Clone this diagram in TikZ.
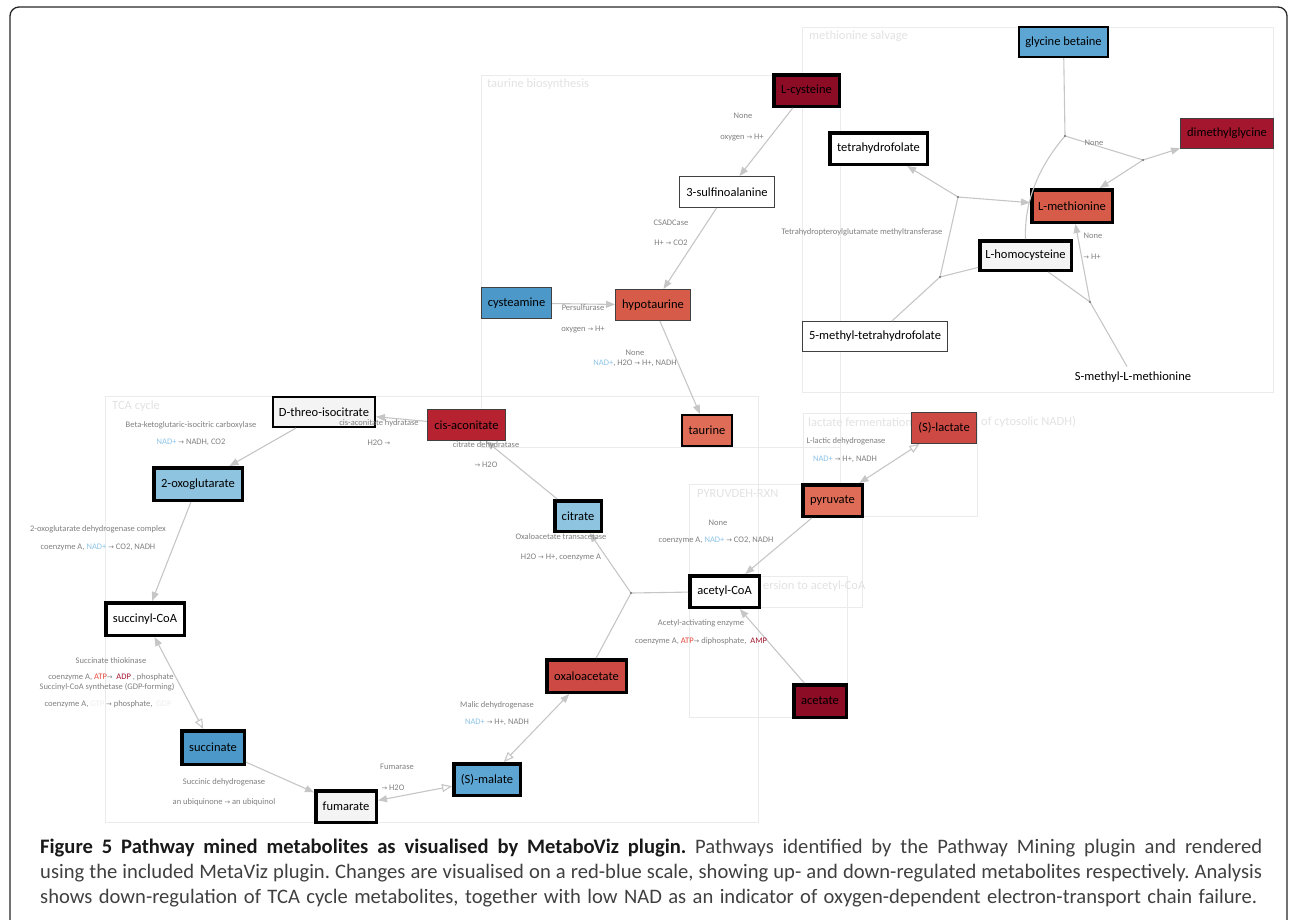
\documentclass[tikz,border=0pt]{standalone}
\usepackage{fontspec}
\setmainfont{Carlito}
\newfontfamily\arrfont{DejaVu Sans}[Scale=0.8]
\usetikzlibrary{arrows.meta}

\definecolor{upA}{HTML}{8B0C24}
\definecolor{upB}{HTML}{A3162D}
\definecolor{upC}{HTML}{B72231}
\definecolor{upD}{HTML}{CD4944}
\definecolor{upE}{HTML}{D65B49}
\definecolor{upF}{HTML}{DF6C56}
\definecolor{downA}{HTML}{4B98C9}
\definecolor{downB}{HTML}{5DA6D4}
\definecolor{downC}{HTML}{8EC4E0}
\definecolor{nochg}{HTML}{F4F4F4}
\definecolor{edgegray}{HTML}{C6C6C6}
\definecolor{lblgray}{HTML}{7F7F7F}
\definecolor{nadblue}{HTML}{8DC3E6}
\definecolor{atpred}{HTML}{E4493B}
\definecolor{adpred}{HTML}{A1142E}
\definecolor{gtpgray}{HTML}{ECECEC}
\definecolor{titlegray}{HTML}{E2E2E2}
\definecolor{grpline}{HTML}{EBEBEB}

\newcommand{\toarr}{{\arrfont\char"2192}}
\newcommand{\nadplus}{{\color{nadblue}NAD+}}

\tikzset{
	met/.style={draw, font=\fontsize{12.5}{14}\selectfont, inner sep=0pt},
	thickbd/.style={line width=3.5pt},
	midbd/.style={line width=2pt},
	thinbd/.style={line width=0.9pt, draw=black!75},
	rxn/.style={draw=edgegray, line width=1.1pt},
	fwd/.style={rxn, -{Triangle[length=9pt,width=7pt]}},
	fb/.style={rxn, {Triangle[length=9pt,width=7pt]}-{Triangle[length=10pt,width=8pt,fill=white]}},
	bf/.style={rxn, {Triangle[length=10pt,width=8pt,fill=white]}-{Triangle[length=9pt,width=7pt]}},
	lbl/.style={font=\fontsize{8.5}{10}\selectfont, text=lblgray, inner sep=0pt},
	grp/.style={draw=grpline, line width=0.8pt},
	grplbl/.style={font=\fontsize{12.5}{14}\selectfont, text=titlegray, anchor=west, inner sep=0pt},
	capline/.style={font=\fontsize{20.6}{24}\selectfont\frenchspacing, text=black!75, anchor=base west, inner sep=0pt}
}

\begin{document}
\begin{tikzpicture}[x=1pt,y=-1pt]
	\useasboundingbox (0,0) rectangle (1292,919);
	%\draw[help lines] (0,0) grid[step=100] (1292,919);
	\draw[line width=1.3pt, black!85, rounded corners=9] (10,930) -- (10,7) -- (1287,7) -- (1287,930);
	
	%pathway groups
	\draw[grp] (802,27) rectangle (1273,392);
		\node[grplbl] (tMet) at (809,36) {methionine salvage};
	\draw[grp] (481,75) rectangle (840,447);
		\node[grplbl] (tTau) at (487,84) {taurine biosynthesis};
	\draw[grp] (105,396) rectangle (758,822);
		\node[grplbl] (tTca) at (112,406) {TCA cycle};
	\draw[grp] (803,413) rectangle (977,516);
		\node[grplbl] (tLac) at (808,422) {lactate fermentation};
		\node[grplbl] (tLacB) at (981,422) {of cytosolic NADH)};
	\draw[grp] (689,484) rectangle (862,607);
		\node[grplbl] (tPdh) at (697,494) {PYRUVDEH-RXN};
	\draw[grp] (689,576) rectangle (847,717);
		\node[grplbl] (tAce) at (763,586) {ersion to acetyl-CoA};
	\draw[grp] (840,447) -- (840,516);
	
	%metabolites
	\node[met, thickbd, fill=upA, minimum width=65.5, minimum height=31.5] (lcys) at (806.5,90.5) {L-cysteine};
	\node[met, thinbd, fill=white, minimum width=95.1, minimum height=31.1] (sulf) at (727,192) {3-sulfinoalanine};
	\node[met, thinbd, fill=downA, minimum width=70.1, minimum height=31.1] (cysa) at (516.5,303) {cysteamine};
	\node[met, thinbd, fill=upE, minimum width=75.1, minimum height=31.1] (hypo) at (653,305) {hypotaurine};
	\node[met, midbd, fill=upF, minimum width=50, minimum height=31] (taur) at (707,430.5) {taurine};
	
	\node[met, midbd, fill=downB, minimum width=89, minimum height=30] (glyb) at (1063.5,42) {glycine betaine};
	\node[met, thinbd, fill=upB, minimum width=93.1, minimum height=30.1] (dmg) at (1227,133.5) {dimethylglycine};
	\node[met, thickbd, fill=white, minimum width=97.5, minimum height=31.5] (thf) at (878.5,148.5) {tetrahydrofolate};
	\node[met, thickbd, fill=upE, minimum width=80.5, minimum height=32.5] (lmet) at (1072,206) {L-methionine};
	\node[met, thickbd, fill=nochg, minimum width=91.5, minimum height=29.5] (lhcy) at (1025.5,255.5) {L-homocysteine};
	\node[met, thinbd, fill=white, minimum width=145.1, minimum height=30.1] (mthf) at (875,336.5) {5-methyl-tetrahydrofolate};
	\node[met, draw=none, outer sep=5pt] (smm) at (1133,377) {S-methyl-L-methionine};
	
	\node[met, midbd, fill=nochg, minimum width=102, minimum height=30] (icit) at (324,412) {D-threo-isocitrate};
	\node[met, thinbd, fill=upC, minimum width=78.1, minimum height=31.1] (cisa) at (466.5,425) {cis-aconitate};
	\node[met, thickbd, fill=downC, minimum width=88.5, minimum height=32.5] (oxog) at (198,484) {2-oxoglutarate};
	\node[met, thickbd, fill=white, minimum width=78.5, minimum height=32.5] (scoa) at (145,619) {succinyl-CoA};
	\node[met, thickbd, fill=downC, minimum width=46.5, minimum height=30.5] (citr) at (578,516) {citrate};
	\node[met, thickbd, fill=upD, minimum width=79.5, minimum height=32.5] (oaa) at (586.5,676) {oxaloacetate};
	\node[met, thickbd, fill=downA, minimum width=62.5, minimum height=33.5] (succ) at (213,747.5) {succinate};
	\node[met, thickbd, fill=nochg, minimum width=60.5, minimum height=31.5] (fum) at (346,806.5) {fumarate};
	\node[met, thickbd, fill=downB, minimum width=66.5, minimum height=31.5] (mal) at (487,779.5) {(S)-malate};
	
	\node[met, thickbd, fill=upF, minimum width=59.5, minimum height=31.5] (pyr) at (832.5,500.5) {pyruvate};
	\node[met, line width=1.3pt, draw=black!75, fill=upD, minimum width=64.7, minimum height=30.7] (lac) at (944,428) {(S)-lactate};
	\node[met, thickbd, fill=white, minimum width=69.5, minimum height=31.5] (acoa) at (724.5,591.5) {acetyl-CoA};
	\node[met, thickbd, fill=upA, minimum width=52.5, minimum height=32.5] (acet) at (820,701) {acetate};
	
	%branch points
	\coordinate (j1) at (1065,136);
	\coordinate (j2) at (1143,160);
	\coordinate (j3) at (958,197);
	\coordinate (j4) at (940,277);
	\coordinate (j5) at (1090,302);
	\coordinate (j6) at (631,593);
	
	%taurine biosynthesis
	\draw[fwd] (lcys) -- (sulf);
	\draw[fwd] (sulf) -- (hypo);
	\draw[fwd] (cysa) -- (hypo);
	\draw[fwd] (hypo) -- (taur);
	
	%methionine salvage
	\draw[rxn] (glyb) -- (j1) -- (j2);
	\draw[fwd] (j2) -- (dmg);
	\draw[fwd] (j2) -- (lmet);
	\draw[rxn] (j1) .. controls (1040,165) and (1024,200) .. (lhcy.north);
	\draw[fwd] (j3) -- (thf);
	\draw[fwd] (j3) -- (lmet);
	\draw[rxn] (j3) -- (j4);
	\draw[rxn] (mthf) -- (j4) -- (lhcy);
	\draw[rxn] (lhcy) -- (j5);
	\draw[rxn] (smm) -- (j5);
	\draw[fwd] (j5) -- (lmet);
	
	%TCA cycle
	\draw[fwd] (cisa) -- (icit);
	\draw[fwd] (citr) -- (cisa);
	\draw[fwd] (icit) -- (oxog);
	\draw[fwd] (oxog) -- (scoa);
	\draw[fb] (scoa) -- (succ);
	\draw[fwd] (succ) -- (fum);
	\draw[fb] (fum) -- (mal);
	\draw[bf] (mal) -- (oaa);
	\draw[rxn] (oaa) -- (j6);
	\draw[rxn] (acoa) -- (j6);
	\draw[fwd] (j6) -- (citr);
	
	%pyruvate, lactate, acetate
	\draw[fwd] (pyr) -- (acoa);
	\draw[fb] (pyr) -- (lac);
	\draw[fwd] (acet) -- (acoa);
	
	\foreach \j in {j1,j2,j3,j4,j5,j6}
		\fill[black!55] (\j) circle (1.1);
	
	%reaction labels
	\node[lbl] (cdoE) at (743,116) {None};
	\node[lbl] (cdoS) at (742,137) {oxygen \toarr{} H+};
	\node[lbl] (csadE) at (671,223) {CSADCase};
	\node[lbl] (csadS) at (671,243) {H+ \toarr{} CO2};
	\node[lbl] (persE) at (583,308) {Persulfurase};
	\node[lbl] (persS) at (583,329) {oxygen \toarr{} H+};
	\node[lbl] (hypoE) at (635,353) {None};
	\node[lbl] (hypoS) at (635,363) {\nadplus, H2O \toarr{} H+, NADH};
	
	\node[lbl] (bhmtE) at (1094,143) {None};
	\node[lbl] (metrE) at (862,232) {Tetrahydropteroylglutamate methyltransferase};
	\node[lbl] (mmuE) at (1093,236) {None};
	\node[lbl] (mmuS) at (1092,257) {\toarr{} H+};
	
	\node[lbl] (acnE) at (379,423) {cis-aconitate hydratase};
	\node[lbl] (acnS) at (379,443) {H2O \toarr};
	\node[lbl] (cdhE) at (486,445) {citrate dehydratase};
	\node[lbl] (cdhS) at (486,465) {\toarr{} H2O};
	\node[lbl] (idhE) at (191,425) {Beta-ketoglutaric-isocitric carboxylase};
	\node[lbl] (idhS) at (191,442) {\nadplus{} \toarr{} NADH, CO2};
	\node[lbl] (ogdE) at (98,529) {2-oxoglutarate dehydrogenase complex};
	\node[lbl] (ogdS) at (98,547) {coenzyme A,\ \nadplus{} \toarr{} CO2, NADH};
	\node[lbl] (stkE) at (111,661) {Succinate thiokinase};
	\node[lbl] (stkS) at (111,677) {coenzyme A,\ {\color{atpred}ATP}\toarr{}\ \ {\color{adpred}ADP} , phosphate};
	\node[lbl] (scsE) at (107,687) {Succinyl-CoA synthetase (GDP-forming)};
	\node[lbl] (scsS) at (108,704) {coenzyme A,\ {\color{gtpgray}GTP} \toarr{} phosphate,\ \ {\color{gtpgray}GDP}};
	\node[lbl] (sdhE) at (224,782) {Succinic dehydrogenase};
	\node[lbl] (sdhS) at (224,802) {an ubiquinone \toarr{} an ubiquinol};
	\node[lbl] (fumE) at (397,767) {Fumarase};
	\node[lbl] (fumS) at (393,788) {\toarr{} H2O};
	\node[lbl] (mdhE) at (497,705) {Malic dehydrogenase};
	\node[lbl] (mdhS) at (497,722) {\nadplus{} \toarr{} H+, NADH};
	\node[lbl] (csE) at (561,537) {Oxaloacetate transacetase};
	\node[lbl] (csS) at (561,557) {H2O \toarr{} H+, coenzyme A};
	
	\node[lbl] (pdhE) at (718,523) {None};
	\node[lbl] (pdhS) at (716,540) {coenzyme A,\ \nadplus{} \toarr{} CO2, NADH};
	\node[lbl] (ldhE) at (846,441) {L-lactic dehydrogenase};
	\node[lbl] (ldhS) at (845,459) {\nadplus{} \toarr{} H+, NADH};
	\node[lbl] (acsE) at (701,623) {Acetyl-activating enzyme};
	\node[lbl] (acsS) at (701,641) {coenzyme A,\ {\color{atpred}ATP}\toarr{} diphosphate,\ \ {\color{adpred}AMP}};
	
	%caption, spread to the full width like the printed paragraph
	\node[capline] (cap1) at (40,853) {\makebox[1222pt][s]{{\bfseries\color{black!90}Figure 5 Pathway mined metabolites as visualised by MetaboViz plugin.} Pathways identified by the Pathway Mining plugin and rendered}};
	\node[capline] (cap2) at (40,878) {\makebox[1222pt][s]{using the included MetaViz plugin. Changes are visualised on a red-blue scale, showing up- and down-regulated metabolites respectively. Analysis}};
	\node[capline] (cap3) at (40,903) {\makebox[1217pt][s]{shows down-regulation of TCA cycle metabolites, together with low NAD as an indicator of oxygen-dependent electron-transport chain failure.}};
\end{tikzpicture}
\end{document}
